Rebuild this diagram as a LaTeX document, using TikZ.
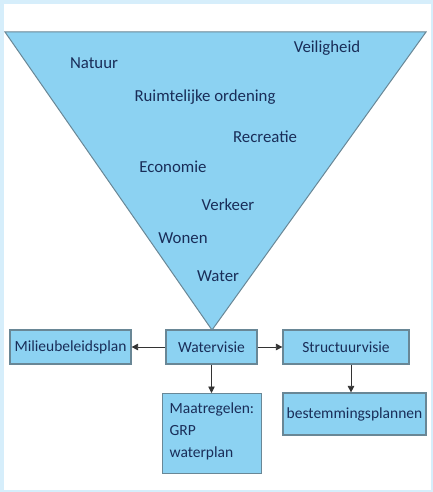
\documentclass[tikz,border=0pt]{standalone}
\usepackage{fontspec}
\setmainfont{Carlito}
\usetikzlibrary{arrows.meta}
\definecolor{frameblue}{RGB}{214,238,251}
\definecolor{fillblue}{RGB}{140,210,242}
\definecolor{edgegray}{RGB}{105,135,150}
\definecolor{textnavy}{RGB}{25,45,88}
\tikzset{
  lbl/.style={text=textnavy, font=\fontsize{16.8bp}{20bp}\selectfont, inner sep=0pt},
  boxnode/.style={draw=edgegray, line width=1.2bp, fill=fillblue, text=textnavy,
    font=\fontsize{15.5bp}{22bp}\selectfont, inner sep=2bp},
  conn/.style={draw=black!80, line width=0.8bp, -{Triangle[length=6.5bp,width=6.5bp]}}
}
\begin{document}
\begin{tikzpicture}[x=1bp,y=-1bp]
\useasboundingbox (0,0) rectangle (433,492);
\fill[frameblue] (0,0) rectangle (433,492);
\fill[white] (4,4) rectangle (431,490);
% funnel
\coordinate (tl) at (5,32);
\coordinate (tr) at (426,32);
\coordinate (apex) at (212,330);
\filldraw[fill=fillblue, draw=edgegray, line width=1bp] (tl) -- (tr) -- (apex) -- cycle;
\node[lbl] (veil) at (327,48) {Veiligheid};
\node[lbl] (nat) at (94,63) {Natuur};
\node[lbl] (ruim) at (205,97) {Ruimtelijke ordening};
\node[lbl] (recr) at (265,137) {Recreatie};
\node[lbl] (econ) at (173,167) {Economie};
\node[lbl] (verk) at (228,205) {Verkeer};
\node[lbl] (won) at (183,238) {Wonen};
\node[lbl] (wat) at (218,276) {Water};
% boxes
\node[boxnode, minimum width=121bp, minimum height=34bp] (milieu) at (70.5,347) {Milieubeleidsplan};
\node[boxnode, minimum width=91bp, minimum height=34bp] (watv) at (211.5,347) {Watervisie};
\node[boxnode, minimum width=126bp, minimum height=34bp] (struct) at (346,347) {Structuurvisie};
\node[boxnode, minimum width=99bp, minimum height=80bp, align=left, anchor=north west, text width=85bp, inner xsep=7bp, inner ysep=4bp, text depth=50bp] (maat) at (162,393)
  {Maatregelen:\\GRP\\waterplan};
\node[boxnode, minimum width=143bp, minimum height=42bp, inner sep=0pt] (best) at (354.5,414) {bestemmingsplannen};
% connectors
\draw[conn] (watv.west) -- (milieu.east);
\draw[conn] (watv.east) -- (struct.west);
\draw[conn] (watv.south) -- (maat.north -| watv.south);
\draw[conn] ([xshift=5bp]struct.south) -- ([xshift=5bp]struct.south |- best.north);
\end{tikzpicture}
\end{document}
